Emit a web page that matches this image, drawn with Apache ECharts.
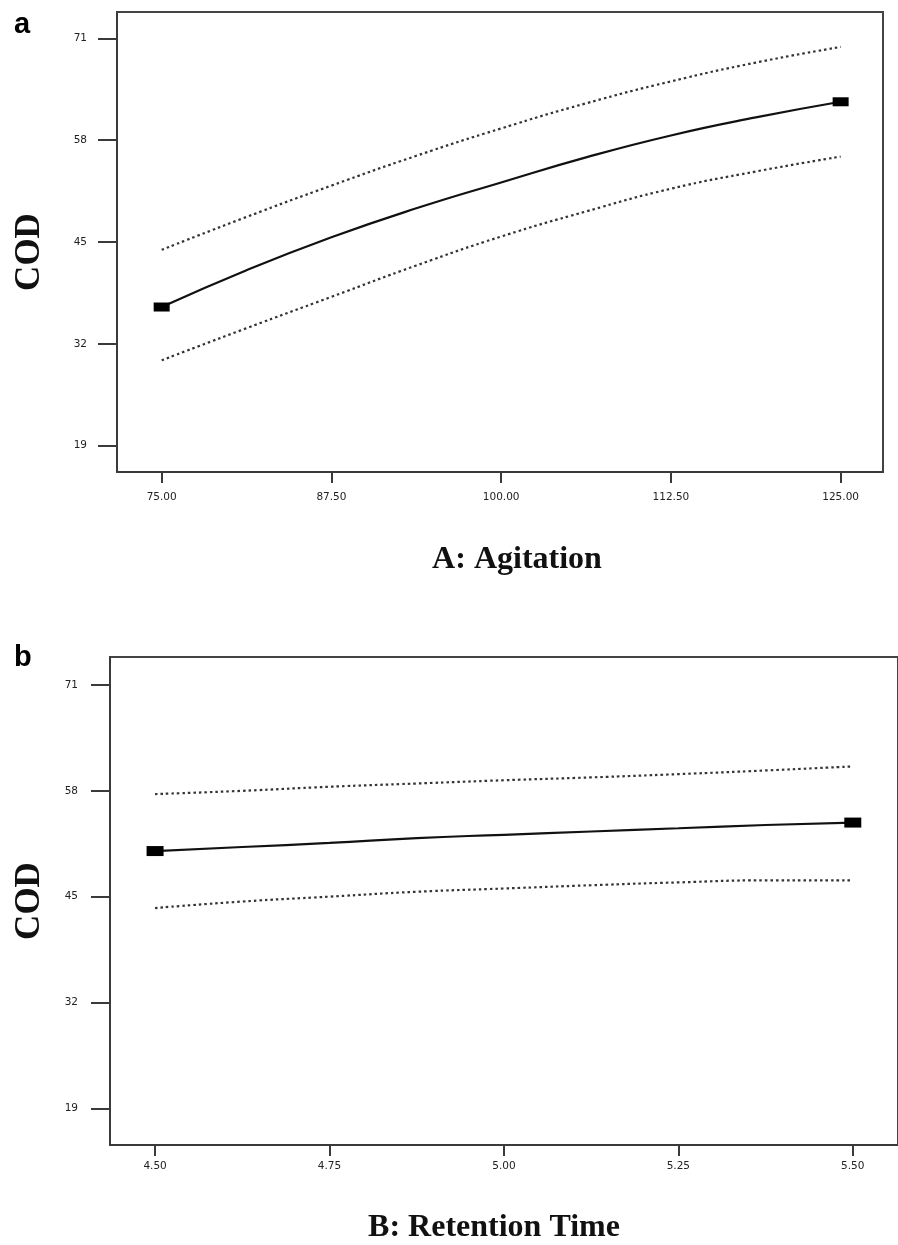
<!DOCTYPE html>
<html>
<head>
<meta charset="utf-8">
<script src="https://cdn.jsdelivr.net/npm/echarts@6/dist/echarts.min.js"></script>
<style>
html,body{margin:0;padding:0;background:#fff;}
#chart{width:898px;height:1245px;}
</style>
</head>
<body>
<div id="chart"></div>
<script>
// ---- data ----
const agitation = [75, 81.25, 87.5, 93.75, 100, 106.25, 112.5, 118.75, 125];
const codMeanA  = [36.7, 41.4, 45.6, 49.3, 52.6, 55.8, 58.6, 60.9, 62.9];
const codUpperA = [44.0, 48.2, 52.2, 56.0, 59.5, 62.7, 65.5, 67.9, 69.9];
const codLowerA = [29.9, 34.0, 38.0, 42.0, 45.7, 48.9, 51.8, 54.0, 55.9];

const retention = [4.5, 4.625, 4.75, 4.875, 5.0, 5.125, 5.25, 5.375, 5.5];
const codMeanB  = [50.6, 51.1, 51.6, 52.2, 52.6, 53.0, 53.4, 53.8, 54.1];
const codUpperB = [57.6, 58.0, 58.5, 58.9, 59.3, 59.65, 60.05, 60.5, 61.0];
const codLowerB = [43.6, 44.4, 45.0, 45.6, 46.0, 46.4, 46.75, 47.0, 47.0];

const yTicks  = [19, 32, 45, 58, 71];
const xTicksA = [75, 87.5, 100, 112.5, 125];
const xTicksB = [4.5, 4.75, 5.0, 5.25, 5.5];

// ---- chart ----
const AX = '#3a3a3a';
const tickFont = {fontFamily: 'DejaVu Sans', fontSize: 10.5, color: '#222'};
const serifBold = {fontFamily: 'Liberation Serif', fontWeight: 'bold', color: '#111'};

function pairs(xs, ys) { return xs.map((x, i) => [x, ys[i]]); }
function meanData(xs, ys) {
  return xs.map((x, i) => ({
    value: [x, ys[i]],
    symbol: (i === 0 || i === xs.length - 1) ? 'rect' : 'none'
  }));
}

function xAxisCfg(gridIndex, min, max, ticks, name, margin, namePad, nameGap) {
  return {
    type: 'value', gridIndex, min, max,
    axisLine: {show: true, lineStyle: {color: AX, width: 2}},
    axisTick: {show: true, customValues: ticks, length: 11, lineStyle: {color: AX, width: 2}},
    axisLabel: Object.assign({customValues: ticks, margin, formatter: v => v.toFixed(2)}, tickFont),
    splitLine: {show: false},
    name, nameLocation: 'middle', nameGap,
    nameTextStyle: Object.assign({fontSize: 32, padding: namePad, verticalAlign: 'middle'}, serifBold)
  };
}
function yAxisCfg(gridIndex, min, max, margin, nameGap, namePad) {
  return {
    type: 'value', gridIndex, min, max,
    axisLine: {show: true, lineStyle: {color: AX, width: 2}},
    axisTick: {show: true, customValues: yTicks, length: 19, lineStyle: {color: AX, width: 2}},
    axisLabel: Object.assign({customValues: yTicks, margin, formatter: v => String(v)}, tickFont),
    splitLine: {show: false},
    name: 'COD', nameLocation: 'middle', nameGap,
    nameTextStyle: Object.assign({fontSize: 35, verticalAlign: 'middle', padding: namePad}, serifBold)
  };
}
function bands(xi, yi, xs, mean, up, lo, symSize) {
  const dotted = {color: '#333', width: 2.2, type: [2.5, 3]};
  return [
    {type: 'line', xAxisIndex: xi, yAxisIndex: yi, data: pairs(xs, up), smooth: 0.5,
     symbol: 'none', lineStyle: dotted, silent: true},
    {type: 'line', xAxisIndex: xi, yAxisIndex: yi, data: pairs(xs, lo), smooth: 0.5,
     symbol: 'none', lineStyle: dotted, silent: true},
    {type: 'line', xAxisIndex: xi, yAxisIndex: yi, data: meanData(xs, mean), smooth: 0.5,
     showSymbol: true, symbolSize: symSize, itemStyle: {color: '#000'},
     lineStyle: {color: '#111', width: 2.2}, silent: true}
  ];
}

const chart = echarts.init(document.getElementById('chart'), null, {renderer: 'canvas'});
chart.setOption({
  backgroundColor: '#fff',
  animation: false,
  grid: [
    {left: 117, top: 12, width: 766, height: 460, show: true, borderColor: '#444', borderWidth: 2},
    {left: 110, top: 657, width: 796, height: 488, show: true, borderColor: '#444', borderWidth: 2}
  ],
  xAxis: [
    xAxisCfg(0, 71.71, 128.12, xTicksA, 'A: Agitation', 20, [0, 0, 0, 34], 88),
    xAxisCfg(1, 4.4354, 5.5648, xTicksB, 'B: Retention Time', 16, [0, 20, 0, 0], 83)
  ],
  yAxis: [
    yAxisCfg(0, 15.64, 74.36, 30, 87, [0, 20, 0, 0]),
    yAxisCfg(1, 14.49, 74.44, 32, 80, [0, 0, 0, 0])
  ],
  graphic: [
    {type: 'text', left: 14, top: 10, style: {text: 'a', font: 'bold 29px "Liberation Sans"', fill: '#000'}},
    {type: 'text', left: 14, top: 643, style: {text: 'b', font: 'bold 29px "Liberation Sans"', fill: '#000'}}
  ],
  series: [
    ...bands(0, 0, agitation, codMeanA, codUpperA, codLowerA, [16, 9]),
    ...bands(1, 1, retention, codMeanB, codUpperB, codLowerB, [17, 10])
  ]
});
</script>
</body>
</html>
